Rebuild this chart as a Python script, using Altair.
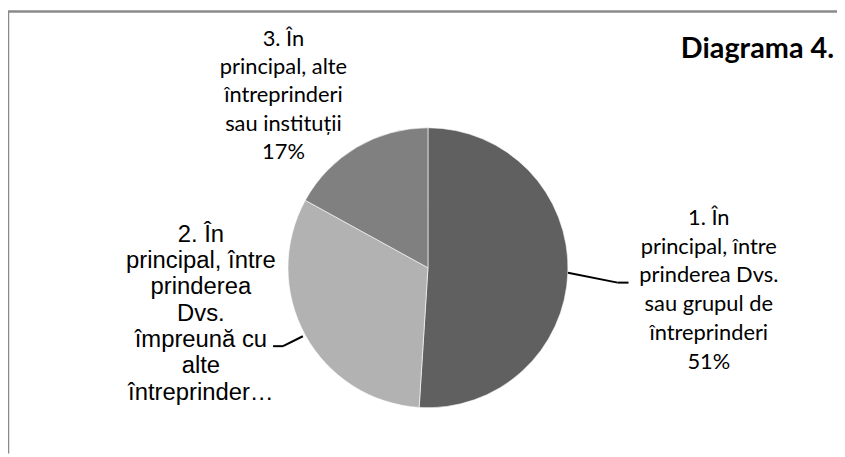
import altair as alt
import pandas as pd

# ---- data ----
categories = [
    "1. În principal, întreprinderea Dvs. sau grupul de întreprinderi",
    "2. În principal, întreprinderea Dvs. împreună cu alte întreprinderi",
    "3. În principal, alte întreprinderi sau instituții",
]
shares = [51, 32, 17]
label_lines = [
    ["1. În", "principal, între", "prinderea Dvs.", "sau grupul de", "întreprinderi", "51%"],
    ["2. În", "principal, între", "prinderea", "Dvs.", "împreună cu", "alte", "întreprinder…"],
    ["3. În", "principal, alte", "întreprinderi", "sau instituții", "17%"],
]
slice_colors = ["#606060", "#b2b2b2", "#808080"]
title_text = "Diagrama 4."

df = pd.DataFrame({
    "cat": categories,
    "share": shares,
    "order": list(range(len(categories))),
    "label": ["\n".join(l) for l in label_lines],
})
one = pd.DataFrame({"t": [title_text]})

# ---- layout ----
W, H = 833, 445
CX, CY = 421, 258
R = 141

base = alt.Chart(df).encode(
    theta=alt.Theta("share:Q", stack=True),
    order=alt.Order("order:Q"),
    x=alt.value(CX),
    y=alt.value(CY),
)

pie = base.mark_arc(outerRadius=R, stroke="white", strokeWidth=0.6).encode(
    color=alt.Color("cat:N", scale=alt.Scale(domain=categories, range=slice_colors), legend=None)
)

label_style = [
    dict(radius=278, dx=5, dy=13 - 72, font="Lato", fontSize=22, lineHeight=29),
    dict(radius=261, dx=0, dy=-80 - 79, font="Liberation Sans", fontSize=24, lineHeight=26.5),
    dict(radius=225, dx=-31, dy=21 - 58, font="Lato", fontSize=22, lineHeight=28.5),
]

label_layers = []
for i, st in enumerate(label_style):
    label_layers.append(
        base.transform_calculate(t=f"datum.order == {i} ? datum.label : ''")
        .mark_text(align="center", baseline="middle", color="black", lineBreak="\n", **st)
        .encode(text="t:N")
    )

title = alt.Chart(one).mark_text(
    align="right", baseline="middle", font="Lato", fontWeight="bold", fontSize=29, color="black"
).encode(text="t:N", x=alt.value(830), y=alt.value(38))

def seg(x1, y1, x2, y2, color="black", w=2):
    return alt.Chart(one).mark_rule(color=color, strokeWidth=w).encode(
        x=alt.value(x1), y=alt.value(y1), x2=alt.value(x2), y2=alt.value(y2)
    )

leaders = [
    seg(562, 263, 612, 273),
    seg(612, 273, 623, 273),
    seg(295, 327, 275, 337),
    seg(275, 337, 265, 337),
]
border = [
    seg(-2, 0, W, 0, color="#8a8a8a", w=2.5),
    seg(-2, 0, -2, H, color="#8a8a8a", w=2.5),
]

chart = alt.layer(pie, *label_layers, title, *leaders, *border).properties(
    width=W, height=H, autosize="none",
    padding={"left": 2, "top": 2, "right": 0, "bottom": 0},
).configure_view(stroke=None)

chart.save("out.html", embed_options={"renderer": "svg", "actions": False})
